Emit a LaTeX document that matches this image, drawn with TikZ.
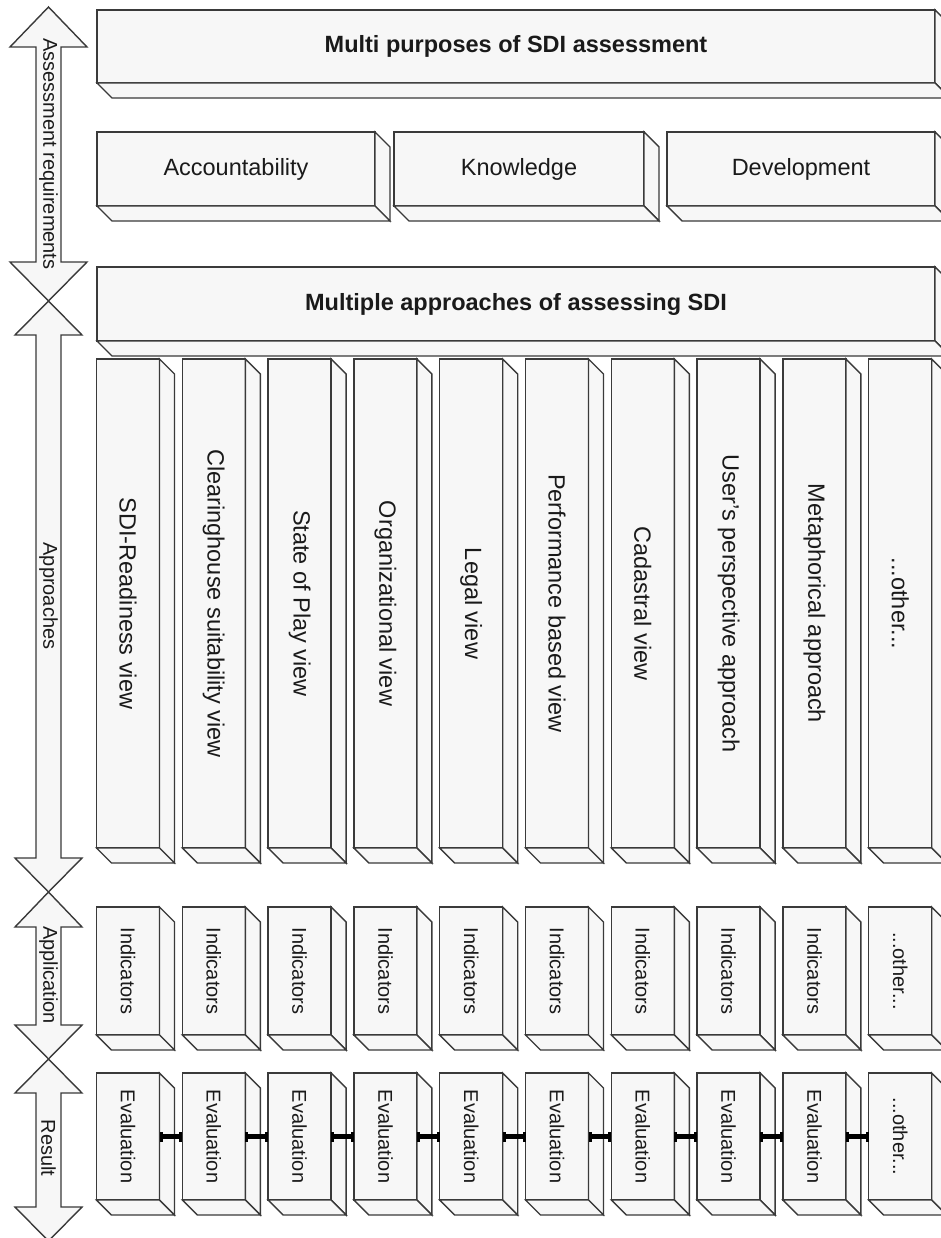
\documentclass[tikz,border=0pt]{standalone}
\usepackage{fontspec}
\setmainfont{Liberation Sans}
\usetikzlibrary{arrows.meta}
\definecolor{facefill}{HTML}{F7F7F7}
\definecolor{edge}{HTML}{3A3A3A}
\definecolor{txt}{HTML}{1A1A1A}
\tikzset{
  face/.style={draw=edge, fill=facefill, line width=1.4pt, line join=miter, inner sep=0pt, outer sep=0pt, text=txt},
  bigtext/.style={font=\fontsize{23.5}{26}\selectfont},
  coltext/.style={font=\fontsize{23.5}{26}\selectfont},
  smalltext/.style={font=\fontsize{20}{22}\selectfont},
  sidearrow/.style={draw=edge, fill=facefill, line width=1.4pt, line join=miter},
  lab/.style={text=txt, font=\fontsize{20}{22}\selectfont, inner sep=0pt},
  conn/.style={draw=black, line width=5pt, {Rectangle[length=3pt,width=10pt]}-{Rectangle[length=3pt,width=10pt]}},
}
\newcommand\dd{15}
\newcommand\othertxt{...other...}
% name, x, y (top-left), w, h, style, text
\newcommand\cuboid[7]{%
  \node[face, #6, minimum width=#4pt, minimum height=#5pt] (#1) at ({#2+#4/2},{#3+#5/2}) {#7};
  \draw[face] (#1.north east) -- ++(\dd,\dd) -- ([shift={(\dd,\dd)}]#1.south east) -- (#1.south east) -- cycle;
  \draw[face] (#1.south west) -- (#1.south east) -- ([shift={(\dd,\dd)}]#1.south east) -- ([shift={(\dd,\dd)}]#1.south west) -- cycle;
}
\begin{document}
\begin{tikzpicture}[x=1pt,y=-1pt]
\useasboundingbox[fill=white] (0,0) rectangle (941,1238);
\clip (0,0) rectangle (941,1238);

% left double arrows
\draw[sidearrow] (48.5,7) -- (87,47) -- (61,47) -- (61,262) -- (87,262) -- (48.5,301) -- (10,262) -- (36,262) -- (36,47) -- (10,47) -- cycle;
\draw[sidearrow] (48.5,301) -- (82,335) -- (61,335) -- (61,858) -- (82,858) -- (48.5,892) -- (15,858) -- (36,858) -- (36,335) -- (15,335) -- cycle;
\draw[sidearrow] (48.5,892) -- (82,927) -- (61,927) -- (61,1025) -- (82,1025) -- (48.5,1059) -- (15,1025) -- (36,1025) -- (36,927) -- (15,927) -- cycle;
\draw[sidearrow] (48.5,1059) -- (82,1093) -- (61,1093) -- (61,1207) -- (82,1207) -- (48.5,1241) -- (15,1207) -- (36,1207) -- (36,1093) -- (15,1093) -- cycle;
\node[lab, rotate=-90] (l1) at (48.5,154) {Assessment requirements};
\node[lab, rotate=-90] (l2) at (48.5,596) {Approaches};
\node[lab, rotate=-90] (l3) at (48.5,975) {Application};
\node[lab, rotate=-90] (l4) at (48.5,1148) {Result};

% wide boxes
\cuboid{top}{97}{10}{838}{73}{bigtext}{\bfseries Multi purposes of SDI assessment}
\cuboid{acc}{97}{132}{278}{74}{bigtext}{Accountability}
\cuboid{kno}{394}{132}{250}{74}{bigtext}{Knowledge}
\cuboid{dev}{667}{132}{268}{74}{bigtext}{Development}
\cuboid{app}{97}{267}{838}{74}{bigtext}{\bfseries Multiple approaches of assessing SDI}

% columns
\foreach \i/\t in {1/SDI-Readiness view, 2/Clearinghouse suitability view, 3/State of Play view, 4/Organizational view, 5/Legal view, 6/Performance based view, 7/Cadastral view, 8/User's perspective approach, 9/Metaphorical approach, 10/\othertxt}{
  \pgfmathsetmacro\xx{96.5+85.8*(\i-1)}
  \cuboid{c\i}{\xx}{359}{63}{489}{coltext}{\rotatebox[origin=c]{-90}{\t}}
}
\foreach \i/\t in {1/Indicators, 2/Indicators, 3/Indicators, 4/Indicators, 5/Indicators, 6/Indicators, 7/Indicators, 8/Indicators, 9/Indicators, 10/\othertxt}{
  \pgfmathsetmacro\xx{96.5+85.8*(\i-1)}
  \cuboid{ind\i}{\xx}{907}{63}{128}{smalltext}{\rotatebox[origin=c]{-90}{\t}}
}
\foreach \i/\t in {1/Evaluation, 2/Evaluation, 3/Evaluation, 4/Evaluation, 5/Evaluation, 6/Evaluation, 7/Evaluation, 8/Evaluation, 9/Evaluation, 10/\othertxt}{
  \pgfmathsetmacro\xx{96.5+85.8*(\i-1)}
  \cuboid{ev\i}{\xx}{1073}{63}{127}{smalltext}{\rotatebox[origin=c]{-90}{\t}}
}
% connectors between evaluations
\foreach \i [evaluate=\i as \j using int(\i+1)] in {1,...,9}{
  \draw[conn] (ev\i.east) -- (ev\j.west);
}
\end{tikzpicture}
\end{document}
